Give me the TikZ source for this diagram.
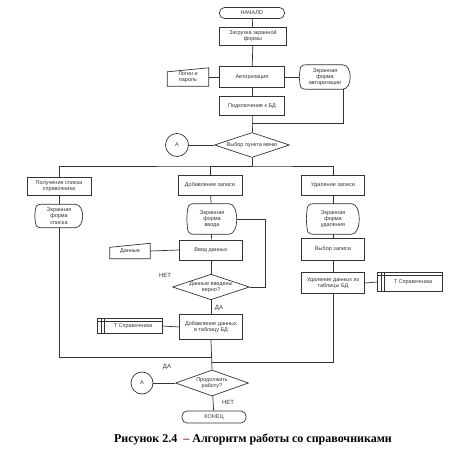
\documentclass[tikz,border=0pt]{standalone}
\usepackage{fontspec}
\setmainfont{Liberation Serif}
\newfontfamily\dsans{Liberation Sans}
\usetikzlibrary{shapes.geometric}

% outlines for the special flowchart symbols
\newcommand{\dispedge}[1]{%
  \draw[flow] (#1.west) .. controls ([xshift=1pt]#1.north west) .. ([xshift=9pt]#1.north west)
    -- ([xshift=-8pt]#1.north east) .. controls ([xshift=2pt]#1.north east) and ([xshift=2pt]#1.south east) .. ([xshift=-8pt]#1.south east)
    -- ([xshift=9pt]#1.south west) .. controls ([xshift=1pt]#1.south west) .. (#1.west);}
\newcommand{\maninedge}[1]{%
  \draw[flow] ([yshift=-4pt]#1.north west) -- (#1.north east) -- (#1.south east) -- (#1.south west) -- cycle;}
\newcommand{\storeedge}[1]{%
  \draw[flow] (#1.north west) rectangle (#1.south east);
  \draw[flow] ([xshift=4pt]#1.north west) -- ([xshift=4pt]#1.south west)
    ([xshift=7pt]#1.north west) -- ([xshift=7pt]#1.south west)
    ([yshift=-3pt]#1.north west) -- ([yshift=-3pt]#1.north east);}

\begin{document}
\begin{tikzpicture}[x=1pt, y=-1pt,
  flow/.style={draw=black!80, line width=0.7pt},
  txt/.style={font=\dsans\fontsize{5.5}{6.2}\selectfont, text=black!80, align=center, inner sep=0pt},
  box/.style={txt, flow, rectangle, minimum width=64pt, minimum height=20pt},
  term/.style={txt, flow, rectangle, rounded corners=5pt, minimum width=65pt, minimum height=11pt},
  decision/.style={txt, flow, diamond, aspect=3, minimum width=75pt, minimum height=25pt},
  connc/.style={txt, flow, circle, minimum size=23pt},
  shapebox/.style={txt, rectangle, minimum width=50pt, minimum height=24pt},
  lbl/.style={font=\dsans\fontsize{6}{7}\selectfont, text=black!80}]
  \path[use as bounding box] (0,0) rectangle (453,460);

  % main column
  \node[term] (start) at (252,13) {НАЧАЛО};
  \node[box, minimum height=18pt, minimum width=67pt] (load) at (253,36) {Загрузка экранной\\формы};
  \node[box, minimum width=65pt, minimum height=21pt] (auth) at (252,77) {Авторизация};
  \node[shapebox, minimum width=41pt, minimum height=18pt] (login) at (188,77) {Логин и\\пароль};
  \node[shapebox, minimum width=51pt, minimum height=24pt] (authscr) at (325,77) {Экранная\\форма\\авторизации};
  \node[box, minimum width=65pt, minimum height=19pt] (conn) at (252,106) {Подключение к БД};
  \node[decision] (menu) at (252,145) {Выбор пункта меню};
  \node[connc] (a1) at (177,145) {А};
  \maninedge{login}
  \dispedge{authscr}
  \coordinate (j1) at (252,123);
  \coordinate (j2) at (252,166);

  % left branch
  \node[box, minimum height=18pt] (list) at (59,186) {Получение списка\\справочника};
  \node[shapebox, minimum width=48pt, minimum height=23pt] (listscr) at (59,216) {Экранная\\форма\\списка};
  \dispedge{listscr}

  % middle branch
  \node[box] (add) at (210,185) {Добавление записи};
  \node[shapebox, minimum height=30pt] (addscr) at (212,219) {Экранная\\форма\\ввода};
  \node[box, minimum width=63pt] (input) at (211,250) {Ввод данных};
  \node[shapebox, minimum width=40pt, minimum height=15pt] (data) at (130,251) {Данные};
  \node[decision, minimum width=73pt] (check) at (211,287) {Данные введены\\верно?};
  \node[box, minimum width=63pt, minimum height=25pt] (save) at (211,327) {Добавление данных\\в таблицу БД};
  \node[shapebox, minimum width=64pt, minimum height=14pt] (tab1) at (130,326) {\hspace*{6pt}Т Справочника};
  \dispedge{addscr}
  \maninedge{data}
  \storeedge{tab1}
  \coordinate (j4) at (265,219);

  % right branch
  \node[box, minimum width=63pt] (del) at (333,185) {Удаление записи};
  \node[shapebox, minimum width=53pt, minimum height=30pt] (delscr) at (333,219) {Экранная\\форма\\удаления};
  \node[box, minimum width=63pt, minimum height=22pt] (pick) at (333,249) {Выбор записи};
  \node[box, minimum width=63pt, minimum height=21pt] (remove) at (333,283) {Удаление данных из\\таблицы БД};
  \node[shapebox, minimum width=65pt, minimum height=19pt] (tab2) at (410,282) {\hspace*{6pt}Т Справочника};
  \dispedge{delscr}
  \storeedge{tab2}

  % bottom
  \node[decision, minimum width=73pt, minimum height=26pt] (cont) at (212,383) {Продолжить\\работу?};
  \node[connc, minimum size=22pt] (a2) at (142,383) {А};
  \node[term, minimum width=64pt, minimum height=12pt] (stop) at (214,417) {КОНЕЦ};
  \coordinate (j3) at (212,357);
  \coordinate (j5) at (212,362);

  % connectors
  \draw[flow] (start) -- (load);
  \draw[flow] (load) -- (auth);
  \draw[flow] (login.east) -- (auth.west);
  \draw[flow] (auth.east) -- (authscr.west);
  \draw[flow] (auth) -- (conn);
  \draw[flow] ([xshift=18pt]authscr.south) |- (j1);
  \draw[flow] (conn.south) -- (j1) -- (menu.north);
  \draw[flow] (menu.west) -- (a1.east);
  \draw[flow] (menu.south) -- (j2);
  \draw[flow] (list.north) |- (j2) -| (del.north);
  \draw[flow] (add.north) |- (j2);
  \draw[flow] (list) -- (listscr);
  \draw[flow] (listscr.south) |- (j3);
  \draw[flow] (add) -- (addscr);
  \draw[flow] (addscr) -- (input);
  \draw[flow] (data.east) -- (input.west);
  \draw[flow] (input) -- (check);
  \draw[flow] (check.east) -| (j4) -- (addscr.east);
  \draw[flow] (check) -- (save);
  \draw[flow] (save.west) -- (tab1.east);
  \draw[flow] (save.south) -- (cont.north);
  \draw[flow] (del) -- (delscr);
  \draw[flow] (delscr) -- (pick);
  \draw[flow] (pick) -- (remove);
  \draw[flow] (remove.east) -- (tab2.west);
  \draw[flow] (remove.south) |- (j5);
  \draw[flow] (cont.west) -- (a2.east);
  \draw[flow] (cont) -- (stop);

  \node[lbl] (no1) at (165,275) {НЕТ};
  \node[lbl] (yes1) at (219,308) {ДА};
  \node[lbl] (yes2) at (167,367) {ДА};
  \node[lbl] (no2) at (228,402) {НЕТ};

  \node[font=\bfseries\fontsize{12}{14}\selectfont] (cap) at (253,439) {Рисунок 2.4\ \ \textcolor{red!75!black}{–} Алгоритм работы со справочниками};
\end{tikzpicture}
\end{document}
